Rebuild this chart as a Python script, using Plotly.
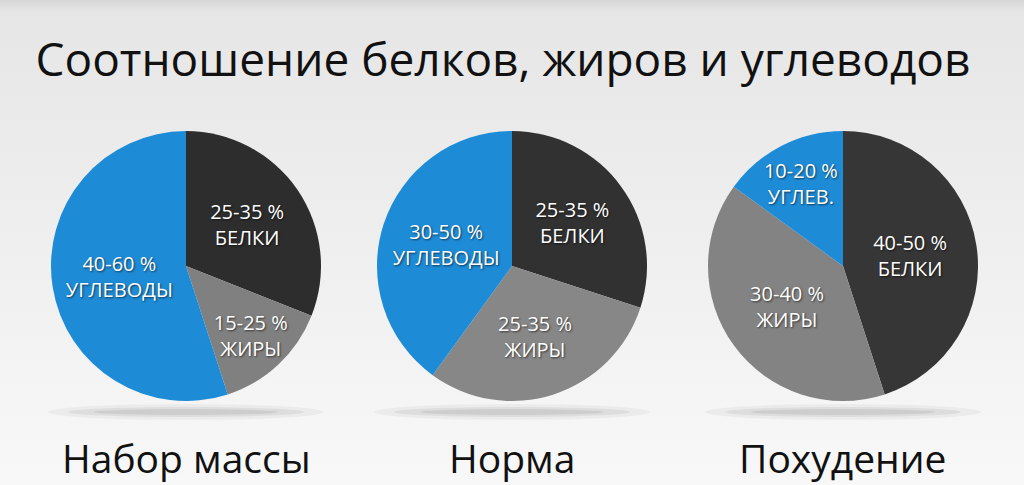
import plotly.graph_objects as go

# ---- data ----
title_text = "Соотношение белков, жиров и углеводов"
groups = ["Набор массы", "Норма", "Похудение"]
nutrients = ["Белки", "Жиры", "Углеводы"]
share_mass = [31, 14, 55]
share_norm = [30, 30, 40]
share_loss = [45, 40, 15]
range_mass = ["25-35 %", "15-25 %", "40-60 %"]
range_norm = ["25-35 %", "25-35 %", "30-50 %"]
range_loss = ["40-50 %", "30-40 %", "10-20 %"]
caps_mass = ["БЕЛКИ", "ЖИРЫ", "УГЛЕВОДЫ"]
caps_norm = ["БЕЛКИ", "ЖИРЫ", "УГЛЕВОДЫ"]
caps_loss = ["БЕЛКИ", "ЖИРЫ", "УГЛЕВ."]

# ---- layout constants ----
W, H = 1024, 485
centers_x = [186, 512, 843]
center_y = 266
R = 135
colors = [
    ["#2d2d2d", "#808080", "#1e8bd6"],
    ["#313131", "#878787", "#1e8bd6"],
    ["#363636", "#838383", "#1e8bd6"],
]

shares = [share_mass, share_norm, share_loss]
ranges = [range_mass, range_norm, range_loss]
caps = [caps_mass, caps_norm, caps_loss]

fig = go.Figure()
for i in range(3):
    cx = centers_x[i]
    txt = [f"{r}<br>{c}" for r, c in zip(ranges[i], caps[i])]
    fig.add_trace(go.Pie(
        labels=nutrients,
        values=shares[i],
        text=txt,
        textinfo="text",
        textposition="inside",
        insidetextorientation="horizontal",
        sort=False,
        direction="clockwise",
        rotation=0,
        marker=dict(colors=colors[i], line=dict(width=0)),
        insidetextfont=dict(family="Open Sans", size=20, color="white",
                            shadow="1px 1px 2px rgba(0,0,0,0.6)"),
        domain=dict(x=[(cx - R) / W, (cx + R) / W],
                    y=[1 - (center_y + R) / H, 1 - (center_y - R) / H]),
        hoverinfo="skip",
        showlegend=False,
        name=groups[i],
    ))

shapes = []
for cx in centers_x:
    for hw, hh, op in [(138, 8, 0.04), (118, 5, 0.06), (92, 3, 0.07)]:
        shapes.append(dict(
            type="circle", xref="paper", yref="paper", layer="below",
            x0=(cx - hw) / W, x1=(cx + hw) / W,
            y0=1 - (412 + hh) / H, y1=1 - (412 - hh) / H,
            fillcolor=f"rgba(0,0,0,{op})", line=dict(width=0),
        ))

annotations = []
for cx, g in zip(centers_x, groups):
    annotations.append(dict(
        text=g, x=cx / W, y=1 - 457 / H, xref="paper", yref="paper",
        xanchor="center", yanchor="middle", showarrow=False,
        font=dict(family="Open Sans", size=39, color="#111111"),
    ))

svg = ("data:image/svg+xml;utf8,<svg xmlns='http://www.w3.org/2000/svg' width='100' height='100' "
       "preserveAspectRatio='none'><defs><linearGradient id='g' x1='0' y1='0' x2='0' y2='1'>"
       "<stop offset='0' stop-color='%23d6d6d6'/><stop offset='0.025' stop-color='%23e6e6e6'/>"
       "<stop offset='1' stop-color='%23f8f8f8'/></linearGradient></defs>"
       "<rect width='100' height='100' fill='url(%23g)'/></svg>")

fig.update_layout(
    width=W, height=H,
    margin=dict(l=0, r=0, t=0, b=0),
    paper_bgcolor="#ededed",
    plot_bgcolor="rgba(0,0,0,0)",
    uniformtext=dict(minsize=20, mode="show"),
    title=dict(text=title_text, x=503 / W, xanchor="center",
               y=1 - 60 / H, yanchor="middle",
               font=dict(family="Open Sans", size=46, color="#111111")),
    shapes=shapes,
    annotations=annotations,
    images=[dict(source=svg, xref="paper", yref="paper", x=0, y=1,
                 sizex=1, sizey=1, xanchor="left", yanchor="top",
                 sizing="stretch", layer="below")],
)

fig.write_html("out.html", config={"displayModeBar": False},
               post_script="document.body.style.margin='0';document.body.style.overflow='hidden';")
